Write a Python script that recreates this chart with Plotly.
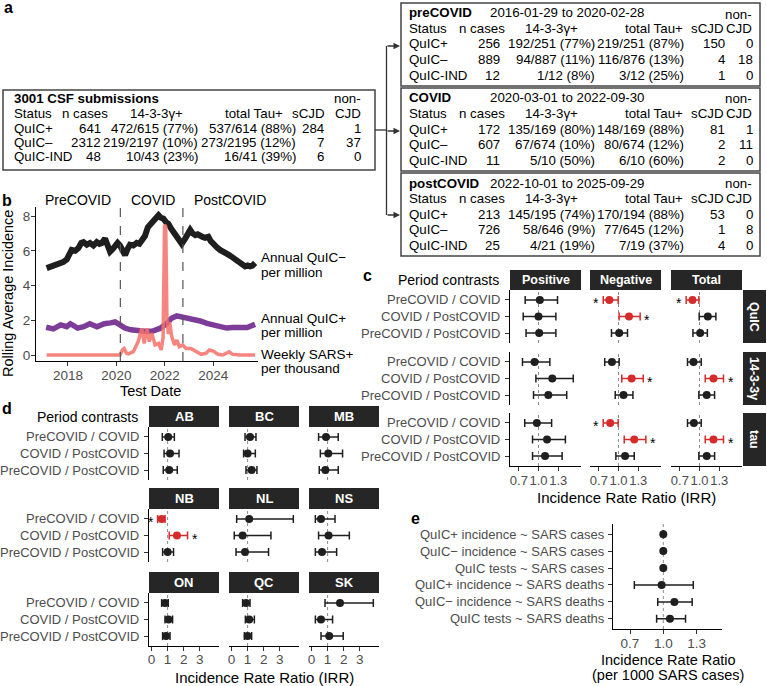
import plotly.graph_objects as go

W, H = 767, 686
FONT = "Liberation Sans, Arial, Helvetica, sans-serif"
GREY = "#4D4D4D"
RED = "#D42B2B"
BLK = "#1F1F1F"
STRIP = "#262626"

# ---------------- panel a data ----------------
status = ["QuIC+", "QuIC–", "QuIC-IND"]
table_headers = ["Status", "n cases", "14-3-3γ+", "total Tau+", "sCJD", "CJD"]
all_title = "3001 CSF submissions"
all_n = ["641", "2312", "48"]
all_1433 = ["472/615 (77%)", "219/2197 (10%)", "10/43 (23%)"]
all_tau = ["537/614 (88%)", "273/2195 (12%)", "16/41 (39%)"]
all_scjd = ["284", "7", "6"]
all_noncjd = ["1", "37", "0"]

period_names = ["preCOVID", "COVID", "postCOVID"]
period_dates = ["2016-01-29 to 2020-02-28", "2020-03-01 to 2022-09-30", "2022-10-01 to 2025-09-29"]
period_n = [["256", "889", "12"], ["172", "607", "11"], ["213", "726", "25"]]
period_1433 = [["192/251 (77%)", "94/887 (11%)", "1/12 (8%)"],
               ["135/169 (80%)", "67/674 (10%)", "5/10 (50%)"],
               ["145/195 (74%)", "58/646 (9%)", "4/21 (19%)"]]
period_tau = [["219/251 (87%)", "116/876 (13%)", "3/12 (25%)"],
              ["148/169 (88%)", "80/674 (12%)", "6/10 (60%)"],
              ["170/194 (88%)", "77/645 (12%)", "7/19 (37%)"]]
period_scjd = [["150", "4", "1"], ["81", "2", "2"], ["53", "1", "4"]]
period_noncjd = [["0", "18", "0"], ["1", "11", "0"], ["0", "8", "0"]]

# ---------------- panel b data ----------------
period_labels = ["PreCOVID", "COVID", "PostCOVID"]
period_label_x = [2018.4, 2021.5, 2024.7]
period_bounds = [2020.164, 2022.748]

neg_year = [2017.12, 2017.35, 2017.6, 2017.8, 2017.95, 2018.05, 2018.15, 2018.3, 2018.43, 2018.55,
            2018.64, 2018.78, 2018.91, 2019.05, 2019.19, 2019.3, 2019.4, 2019.53, 2019.64, 2019.74,
            2019.85, 2019.95, 2020.05, 2020.15, 2020.25, 2020.36, 2020.46, 2020.56, 2020.7, 2020.84,
            2020.95, 2021.05, 2021.18, 2021.3, 2021.39, 2021.53, 2021.64, 2021.74, 2021.84, 2021.94,
            2022.05, 2022.15, 2022.25, 2022.35, 2022.5, 2022.6, 2022.7, 2022.84, 2022.95, 2023.05,
            2023.15, 2023.26, 2023.36, 2023.46, 2023.56, 2023.67, 2023.8, 2023.9, 2024.01, 2024.15,
            2024.28, 2024.42, 2024.56, 2024.66, 2024.77, 2024.9, 2025.04, 2025.18, 2025.32, 2025.42,
            2025.52, 2025.62, 2025.73]
neg_val = [5.0, 5.1, 5.2, 5.35, 5.5, 5.8, 6.05, 6.0, 6.15, 6.45,
           6.5, 6.35, 6.45, 6.3, 6.5, 6.4, 6.45, 6.7, 6.3, 5.95,
           6.1, 6.3, 6.45, 6.3, 6.0, 5.75, 6.1, 6.35, 6.3, 6.45,
           6.4, 6.55, 6.85, 7.35, 7.5, 7.75, 7.8, 8.05, 7.9, 7.85,
           7.65, 7.55, 7.3, 7.1, 6.8, 6.6, 6.4, 6.7, 6.95, 7.2,
           7.0, 6.9, 6.95, 6.85, 6.8, 6.75, 6.8, 6.55, 6.35, 6.2,
           6.05, 5.9, 5.85, 5.75, 5.65, 5.5, 5.35, 5.2, 5.1, 5.15,
           5.1, 5.15, 5.3]

pos_year = [2017.1, 2017.4, 2017.7, 2017.95, 2018.1, 2018.4, 2018.65, 2018.9, 2019.2, 2019.5,
            2019.75, 2019.95, 2020.1, 2020.35, 2020.6, 2020.9, 2021.25, 2021.5, 2021.8, 2022.07,
            2022.28, 2022.49, 2022.7, 2022.9, 2023.2, 2023.46, 2023.74, 2024.0, 2024.28, 2024.55,
            2024.8, 2025.1, 2025.4, 2025.73]
pos_val = [1.6, 1.5, 1.73, 1.63, 1.8, 1.55, 1.63, 1.8, 1.63, 1.8,
           1.85, 1.9, 1.78, 1.55, 1.45, 1.38, 1.35, 1.38, 1.53, 1.8,
           2.12, 2.25, 2.2, 2.1, 2.05, 1.96, 1.82, 1.73, 1.6, 1.55,
           1.58, 1.55, 1.58, 1.76]

sars_year = [2017.12, 2020.15, 2020.25, 2020.32, 2020.42, 2020.5, 2020.7, 2020.9, 2021.05, 2021.15,
             2021.26, 2021.36, 2021.46, 2021.6, 2021.74, 2021.85, 2021.93, 2021.99, 2022.04, 2022.09,
             2022.15, 2022.2, 2022.28, 2022.4, 2022.5, 2022.6, 2022.74, 2022.88, 2023.08, 2023.29,
             2023.5, 2023.7, 2023.84, 2024.0, 2024.2, 2024.4, 2024.65, 2024.8, 2025.1, 2025.73]
sars_val = [0, 0, 0.3, 0.38, 0.1, 0.06, 0.19, 0.77, 1.53, 0.67,
            1.53, 0.77, 1.25, 0.58, 0.67, 0.29, 1.0, 7.5, 7.4, 2.0,
            1.2, 1.9, 1.1, 0.58, 0.86, 0.48, 0.58, 0.38, 0.38, 0.19,
            0.04, 0.1, 0.29, 0.23, 0.04, 0.0, 0.19, 0.04, 0.0, 0.0]

series_labels = [["Annual QuIC−", "per million"], ["Annual QuIC+", "per million"], ["Weekly SARS+", "per thousand"]]

# ---------------- panel c data ----------------
contrasts = ["PreCOVID / COVID", "COVID / PostCOVID", "PreCOVID / PostCOVID"]
c_measures = ["Positive", "Negative", "Total"]
c_tests = ["QuIC", "14-3-3γ", "tau"]
# each: [Positive, Negative, Total] x contrasts
quic_est = [[1.02, 1.00, 1.01], [0.86, 1.16, 1.01], [0.893, 1.127, 1.01]]
quic_lo = [[0.797, 0.767, 0.81], [0.767, 1.01, 0.893], [0.797, 0.995, 0.90]]
quic_hi = [[1.29, 1.265, 1.265], [0.995, 1.33, 1.137], [0.99, 1.25, 1.12]]
y1433_est = [[0.94, 1.21, 1.15], [0.90, 1.20, 1.076], [0.909, 1.213, 1.11]]
y1433_lo = [[0.756, 0.96, 0.924], [0.79, 1.05, 0.95], [0.817, 1.087, 0.99]]
y1433_hi = [[1.173, 1.53, 1.43], [1.01, 1.377, 1.22], [1.026, 1.366, 1.23]]
tau_est = [[0.975, 1.13, 1.10], [0.873, 1.24, 1.10], [0.915, 1.213, 1.11]]
tau_lo = [[0.79, 0.909, 0.909], [0.767, 1.087, 0.96], [0.817, 1.087, 0.99]]
tau_hi = [[1.20, 1.41, 1.36], [0.995, 1.417, 1.24], [1.026, 1.366, 1.23]]
c_ticks = [0.7, 1.0, 1.3]

# ---------------- panel d data ----------------
provinces = ["AB", "BC", "MB", "NB", "NL", "NS", "ON", "QC", "SK"]
d_est = [[1.04, 1.15, 1.10], [1.15, 1.0, 1.25], [0.9, 1.04, 0.86],
         [0.63, 1.58, 1.0], [1.1, 0.69, 0.84], [0.59, 1.06, 0.65],
         [0.84, 1.06, 0.9], [0.9, 1.1, 1.0], [1.77, 0.59, 1.1]]
d_lo = [[0.67, 0.78, 0.73], [0.84, 0.75, 0.9], [0.44, 0.55, 0.48],
        [0.38, 1.1, 0.69], [0.32, 0.17, 0.28], [0.24, 0.44, 0.24],
        [0.63, 0.84, 0.69], [0.69, 0.86, 0.8], [0.84, 0.24, 0.59]]
d_hi = [[1.42, 1.71, 1.60], [1.52, 1.48, 1.58], [1.66, 1.93, 1.66],
        [0.84, 2.24, 1.37], [3.84, 2.45, 2.3], [1.46, 2.35, 1.56],
        [1.04, 1.31, 1.15], [1.15, 1.42, 1.25], [3.84, 1.31, 1.97]]
d_ticks = [0, 1, 2, 3]

# ---------------- panel e data ----------------
e_labels = ["QuIC+ incidence ~ SARS cases", "QuIC− incidence ~ SARS cases", "QuIC tests ~ SARS cases",
            "QuIC+ incidence ~ SARS deaths", "QuIC− incidence ~ SARS deaths", "QuIC tests ~ SARS deaths"]
e_est = [1.0, 1.0, 1.0, 0.985, 1.10, 1.06]
e_lo = [0.997, 0.997, 0.997, 0.739, 0.95, 0.94]
e_hi = [1.003, 1.003, 1.003, 1.27, 1.26, 1.20]
e_ticks = [0.7, 1.0, 1.3]


# ================= helpers =================
def px(x):
    return x / W


def py(y):
    return 1 - y / H


fig = go.Figure()
layout = dict(width=W, height=H, margin=dict(l=0, r=0, t=0, b=0, autoexpand=False),
              paper_bgcolor="white", plot_bgcolor="white", showlegend=False,
              font=dict(family=FONT, size=13, color="black"))
shapes = []
ann = []
n_axes = [0]


def add_axes(xd, yd, xcfg, ycfg):
    n_axes[0] += 1
    s = "" if n_axes[0] == 1 else str(n_axes[0])
    layout["xaxis" + s] = dict(domain=[px(xd[0]), px(xd[1])], anchor="y" + s, automargin=False, **xcfg)
    layout["yaxis" + s] = dict(domain=[py(yd[1]), py(yd[0])], anchor="x" + s, automargin=False, **ycfg)
    return "x" + s, "y" + s


def lin_axis(rng, tickvals, ticktext, show, size=13.5, standoff=-2):
    d = dict(range=rng, showgrid=False, zeroline=False, fixedrange=True)
    if show:
        d.update(showline=True, linecolor="black", linewidth=1.2, ticks="outside", ticklen=4,
                 tickwidth=1, tickcolor="#333333", tickvals=tickvals, ticktext=ticktext,
                 showticklabels=True, tickangle=0, ticklabelstandoff=standoff,
                 tickfont=dict(family=FONT, size=size, color=GREY))
    else:
        d.update(showline=False, ticks="", showticklabels=False)
    return d


def cat_axis(cats, show):
    # category labels are drawn as annotations tied to this axis (see cat_labels)
    d = dict(type="category", categoryorder="array", categoryarray=cats,
             range=[len(cats) - 0.4, -0.6], showgrid=False, zeroline=False, fixedrange=True,
             showticklabels=False)
    if show:
        d.update(showline=True, linecolor="black", linewidth=1.2, ticks="outside", ticklen=4,
                 tickwidth=1, tickcolor="#333333")
    else:
        d.update(showline=False, ticks="")
    return d


def cat_labels(yr, cats, right_px, size=13):
    for cat in cats:
        ann.append(dict(x=px(right_px), y=cat, xref="paper", yref=yr, text=cat, showarrow=False,
                        xanchor="right", yanchor="middle",
                        font=dict(family=FONT, size=size, color=GREY)))


def text(x, y, s, size=13.5, color="black", anchor="left", bold=False, angle=0):
    if bold:
        s = "<b>" + s + "</b>"
    ann.append(dict(x=px(x), y=py(y), xref="paper", yref="paper", text=s, showarrow=False,
                    xanchor=anchor, yanchor="middle", textangle=angle,
                    font=dict(family=FONT, size=size, color=color)))


def rect(x0, y0, x1, y1, fill=None, line=None, lw=1.5):
    shapes.append(dict(type="rect", xref="paper", yref="paper", x0=px(x0), x1=px(x1),
                       y0=py(y1), y1=py(y0), fillcolor=fill if fill else "rgba(0,0,0,0)",
                       line=dict(color=line if line else "rgba(0,0,0,0)", width=lw if line else 0)))


def hline_px(x0, x1, y, color="#333333", w=1.3):
    shapes.append(dict(type="line", xref="paper", yref="paper", x0=px(x0), x1=px(x1),
                       y0=py(y), y1=py(y), line=dict(color=color, width=w)))


def vline_px(x, y0, y1, color="#333333", w=1.3):
    shapes.append(dict(type="line", xref="paper", yref="paper", x0=px(x), x1=px(x),
                       y0=py(y0), y1=py(y1), line=dict(color=color, width=w)))


def strip(x0, y0, x1, y1, label, angle=0, size=12.5):
    rect(x0, y0, x1, y1, fill=STRIP)
    text((x0 + x1) / 2, (y0 + y1) / 2, label, size=size, color="white", anchor="center",
         bold=True, angle=angle)


def forest(xr, yr, cats, est, lo, hi):
    shapes.append(dict(type="line", xref=xr, yref=yr + " domain", x0=1, x1=1, y0=0, y1=1,
                       line=dict(color="#8C8C8C", width=1, dash="dot"), layer="below"))
    for sig_flag, color in ((False, BLK), (True, RED)):
        idx = [i for i in range(len(est)) if ((lo[i] > 1 or hi[i] < 1) == sig_flag)]
        if not idx:
            continue
        fig.add_trace(go.Scatter(
            x=[est[i] for i in idx], y=[cats[i] for i in idx], xaxis=xr, yaxis=yr,
            mode="markers", marker=dict(size=8, color=color), hoverinfo="skip",
            error_x=dict(type="data", symmetric=False,
                         array=[hi[i] - est[i] for i in idx],
                         arrayminus=[est[i] - lo[i] for i in idx],
                         color=color, thickness=1.5, width=4)))
        if sig_flag:
            for i in idx:
                if hi[i] < 1:
                    xv, sh = lo[i], -7
                else:
                    xv, sh = hi[i], 7
                ann.append(dict(x=xv, y=cats[i], xref=xr, yref=yr, text="*", showarrow=False,
                                xshift=sh, yshift=-3,
                                font=dict(family=FONT, size=14, color="black")))


# ================= panel b (first axes) =================
xb, yb = add_axes((36, 258), (207, 361),
                  lin_axis([2016.68, 2025.85], [2018, 2020, 2022, 2024],
                           ["2018", "2020", "2022", "2024"], True),
                  lin_axis([-0.345, 8.52], [0, 2, 4, 6, 8], ["0", "2", "4", "6", "8"], True))
fig.add_trace(go.Scatter(x=neg_year, y=neg_val, xaxis=xb, yaxis=yb, mode="lines",
                         line=dict(color="#1E1E1E", width=6), hoverinfo="skip"))
fig.add_trace(go.Scatter(x=pos_year, y=pos_val, xaxis=xb, yaxis=yb, mode="lines",
                         line=dict(color="#7D3C98", width=5.5), hoverinfo="skip"))
fig.add_trace(go.Scatter(x=sars_year, y=sars_val, xaxis=xb, yaxis=yb, mode="lines",
                         line=dict(color="rgba(246,112,104,0.85)", width=3.5), hoverinfo="skip"))
for xb_ in period_bounds:
    shapes.append(dict(type="line", xref=xb, yref=yb + " domain", x0=xb_, x1=xb_, y0=0, y1=1,
                       line=dict(color="#555555", width=1.2, dash="dash")))
for lab, xl in zip(period_labels, period_label_x):
    ann.append(dict(x=xl, y=py(200), xref=xb, yref="paper", text=lab, showarrow=False,
                    xanchor="center", yanchor="middle", font=dict(family=FONT, size=14, color="black")))
label_y = [(257, 272), (319, 333), (354, 368)]
for (l1, l2), (y1, y2) in zip(series_labels, label_y):
    text(259, y1, l1, size=13.5)
    text(259, y2, l2, size=13.5)
text(8, 294, "Rolling Average Incidence", size=14.5, anchor="center", angle=-90)
text(150, 391, "Test Date", size=14.5, anchor="center")

# ================= panel c =================
c_xcols = [(510, 581), (590, 661), (671, 742)]
c_yrows = [(290, 343), (352, 405), (413, 466)]
c_data = [(quic_est, quic_lo, quic_hi), (y1433_est, y1433_lo, y1433_hi), (tau_est, tau_lo, tau_hi)]
for r, (yr0, yr1) in enumerate(c_yrows):
    est_r, lo_r, hi_r = c_data[r]
    for c, (xc0, xc1) in enumerate(c_xcols):
        wpx = xc1 - xc0
        rng = [1 - 28.5 / 65.6, 1 + (wpx - 28.5) / 65.6]
        xr, yr = add_axes((xc0, xc1), (yr0, yr1),
                          lin_axis(rng, c_ticks, ["0.7", "1.0", "1.3"], r == 2, size=13),
                          cat_axis(contrasts, c == 0))
        forest(xr, yr, contrasts, est_r[c], lo_r[c], hi_r[c])
        if c == 0:
            cat_labels(yr, contrasts, 502)
    strip(743, yr0, 766, yr1, c_tests[r], angle=90)
for c, (xc0, xc1) in enumerate(c_xcols):
    strip(xc0, 270, xc1, 290, c_measures[c])
text(501, 280, "Period contrasts", size=14, anchor="right")
text(626, 497, "Incidence Rate Ratio (IRR)", size=15, anchor="center")

# ================= panel d =================
d_xcols = [(149, 219), (229, 299), (309, 379)]
d_yrows = [(427, 480), (509, 562), (593, 646)]
for k, prov in enumerate(provinces):
    r, c = divmod(k, 3)
    xc0, xc1 = d_xcols[c]
    yr0, yr1 = d_yrows[r]
    rng = [-2.5 / 16.1, (xc1 - xc0 - 2.5) / 16.1]
    xr, yr = add_axes((xc0, xc1), (yr0, yr1),
                      lin_axis(rng, d_ticks, ["0", "1", "2", "3"], r == 2, standoff=-3),
                      cat_axis(contrasts, c == 0))
    forest(xr, yr, contrasts, d_est[k], d_lo[k], d_hi[k])
    if c == 0:
        cat_labels(yr, contrasts, 141)
    strip(xc0, yr0 - 21, xc1, yr0, prov, size=13)
text(140, 417, "Period contrasts", size=14, anchor="right")
text(264, 677, "Incidence Rate Ratio (IRR)", size=15, anchor="center")

# ================= panel e =================
xr, yr = add_axes((613, 722), (524, 629),
                  lin_axis([1 - 50.3 / 111, 1 + 58.7 / 111], e_ticks, ["0.7", "1.0", "1.3"], True),
                  cat_axis(e_labels, True))
forest(xr, yr, e_labels, e_est, e_lo, e_hi)
cat_labels(yr, e_labels, 607)
text(668, 660, "Incidence Rate Ratio", size=14.5, anchor="center")
text(668, 675, "(per 1000 SARS cases)", size=14.5, anchor="center")

# ================= panel a =================
TS = 13.3
# overall table
rect(3, 90, 375, 170, line="#444444", lw=1.5)
text(12, 99, all_title, bold=True, size=TS)
text(363, 99, "non-", anchor="right", size=TS)
hdr_left = [(12, "left"), (110, "right"), (156, "center"), (285, "right"), (327, "right"), (363, "right")]
val_left = [(12, "left"), (103, "right"), (200, "right"), (298, "right"), (326, "right"), (363, "right")]
for (xh, an), h in zip(hdr_left, table_headers):
    text(xh, 113, h, anchor=an, size=TS)
for i in range(3):
    row = [status[i], all_n[i], all_1433[i], all_tau[i], all_scjd[i], all_noncjd[i]]
    for (xv, an), v in zip(val_left, row):
        text(xv, 128.5 + 14 * i, v, anchor=an, size=TS)

hdr_right = [(407, "left"), (507, "right"), (551, "center"), (685, "right"), (726, "right"), (754, "right")]
val_right = [(407, "left"), (502, "right"), (597, "right"), (686, "right"), (727, "right"), (755, "right")]
box_tops = [3, 88, 173]
for p in range(3):
    t = box_tops[p]
    rect(401, t, 760, t + 83, line="#444444", lw=1.5)
    text(407, t + 10, period_names[p], bold=True, size=TS)
    text(488, t + 10, period_dates[p], size=TS)
    text(754, t + 11, "non-", anchor="right", size=TS)
    for (xh, an), h in zip(hdr_right, table_headers):
        text(xh, t + 25.5, h, anchor=an, size=TS)
    for i in range(3):
        row = [status[i], period_n[p][i], period_1433[p][i], period_tau[p][i],
               period_scjd[p][i], period_noncjd[p][i]]
        for (xv, an), v in zip(val_right, row):
            text(xv, t + 41 + 15.5 * i, v, anchor=an, size=TS)

# connectors
hline_px(375, 386.5, 130)
vline_px(386.5, 46, 215)
for ya in [46, 131, 215]:
    ann.append(dict(x=px(400), y=py(ya), xref="paper", yref="paper", text="", showarrow=True,
                    ax=-14, ay=0, axref="pixel", ayref="pixel", arrowhead=2, arrowsize=1,
                    arrowwidth=1.3, arrowcolor="#333333", standoff=0))

# panel letters
text(8, 8, "a", size=16, bold=True, anchor="center")
text(7, 200, "b", size=16, bold=True, anchor="center")
text(367, 275, "c", size=16, bold=True, anchor="center")
text(7, 408, "d", size=16, bold=True, anchor="center")
text(415, 518, "e", size=16, bold=True, anchor="center")

layout["shapes"] = shapes
layout["annotations"] = ann
fig.update_layout(**layout)
fig.write_html("out.html", config={"displayModeBar": False})
